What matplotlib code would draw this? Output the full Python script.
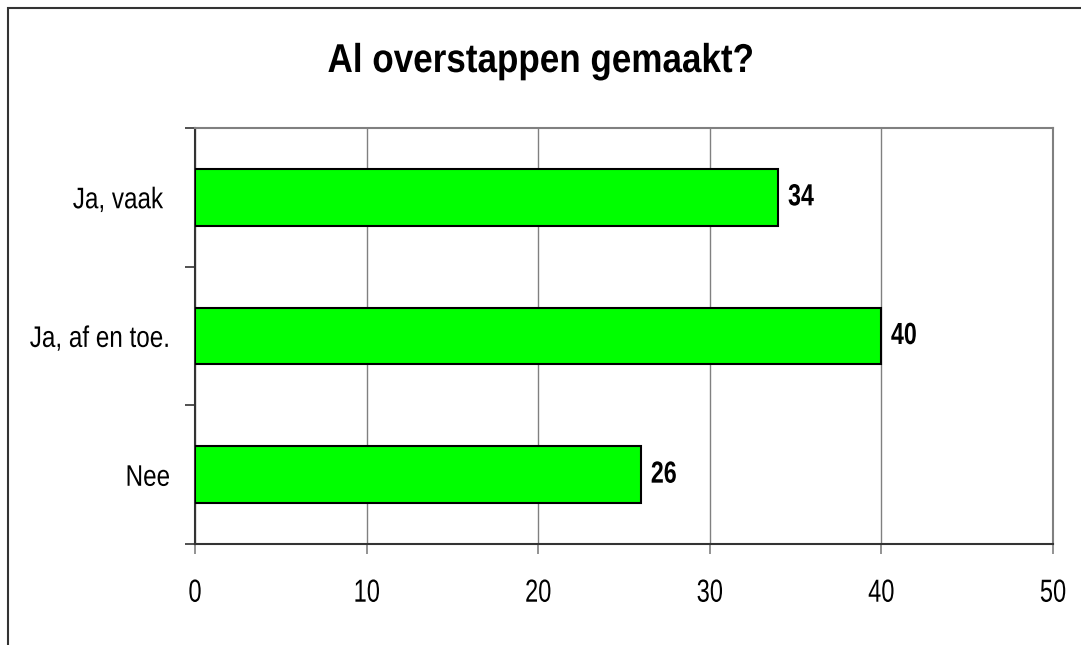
import matplotlib
matplotlib.use("Agg")
import matplotlib.pyplot as plt
from matplotlib.patches import Rectangle
from matplotlib.patheffects import AbstractPathEffect
from matplotlib.transforms import Affine2D

categories = ["Nee", "Ja, af en toe.", "Ja, vaak "]
values = [26, 40, 34]
xticks = [0, 10, 20, 30, 40, 50]

plt.rcParams['font.family'] = ['Liberation Sans', 'DejaVu Sans']


class Narrow(AbstractPathEffect):
    # squeeze / stretch text, to mimic the narrow font of the original
    def __init__(self, sx=0.78, align="center", sy=1.0):
        super().__init__()
        self.sx = sx
        self.sy = sy
        self.align = align

    def draw_path(self, renderer, gc, tpath, affine, rgbFace=None):
        ext = tpath.transformed(affine).get_extents()
        x0 = {"left": ext.x0, "right": ext.x1}.get(self.align, (ext.x0 + ext.x1) / 2)
        y0 = (ext.y0 + ext.y1) / 2
        squeeze = Affine2D().translate(-x0, -y0).scale(self.sx, self.sy).translate(x0, y0)
        renderer.draw_path(gc, tpath, affine + squeeze, rgbFace)


fig = plt.figure(figsize=(10.81, 6.45), dpi=100)
ax = fig.add_axes([195 / 1081, 101 / 645, 858 / 1081, 416 / 645])

# outer frame (only left and top visible in the reference)
fig.patches.append(Rectangle((8 / 1081, -0.1), 1.2, (645 - 8) / 645 + 0.1,
                             transform=fig.transFigure, fill=False,
                             edgecolor="#333333", linewidth=1.5))

ypos = list(range(len(categories)))
ax.barh(ypos, values, height=0.41, color="#00ff00", edgecolor="black",
        linewidth=1.5, zorder=3)
for y, v in zip(ypos, values):
    ax.text(v + 0.55, y, str(v), va="center", ha="left",
            fontsize=22, fontweight="bold", path_effects=[Narrow(0.76, "left")])

ax.set_xlim(0, 50)
ax.set_ylim(-0.5, 2.5)
ax.set_xticks(xticks)
ax.set_yticks(ypos)
ax.set_yticklabels(categories)
ax.set_yticks([-0.5, 0.5, 1.5, 2.5], minor=True)
ax.tick_params(axis="y", which="major", length=0, pad=18, labelsize=18)
ax.tick_params(axis="y", which="minor", length=7, width=1.2, color="#333333")
ax.tick_params(axis="x", length=7, width=1.2, color="#808080", pad=18, labelsize=23)
for lab in ax.get_yticklabels():
    lab.set_path_effects([Narrow(0.97, "right", sy=1.19)])
for lab in ax.get_xticklabels():
    lab.set_path_effects([Narrow(0.74, "center")])

ax.grid(axis="x", color="#808080", linewidth=1, zorder=0)
ax.spines["top"].set_color("#808080")
ax.spines["right"].set_color("#808080")
ax.spines["left"].set_color("#333333")
ax.spines["bottom"].set_color("#333333")
for s in ax.spines.values():
    s.set_linewidth(1.5)

fig.text(0.5, 1 - 72 / 645, "Al overstappen gemaakt?", ha="center", va="baseline",
         fontsize=29, fontweight="bold", path_effects=[Narrow(0.87, "center")])

fig.savefig("out.png", dpi=100)
